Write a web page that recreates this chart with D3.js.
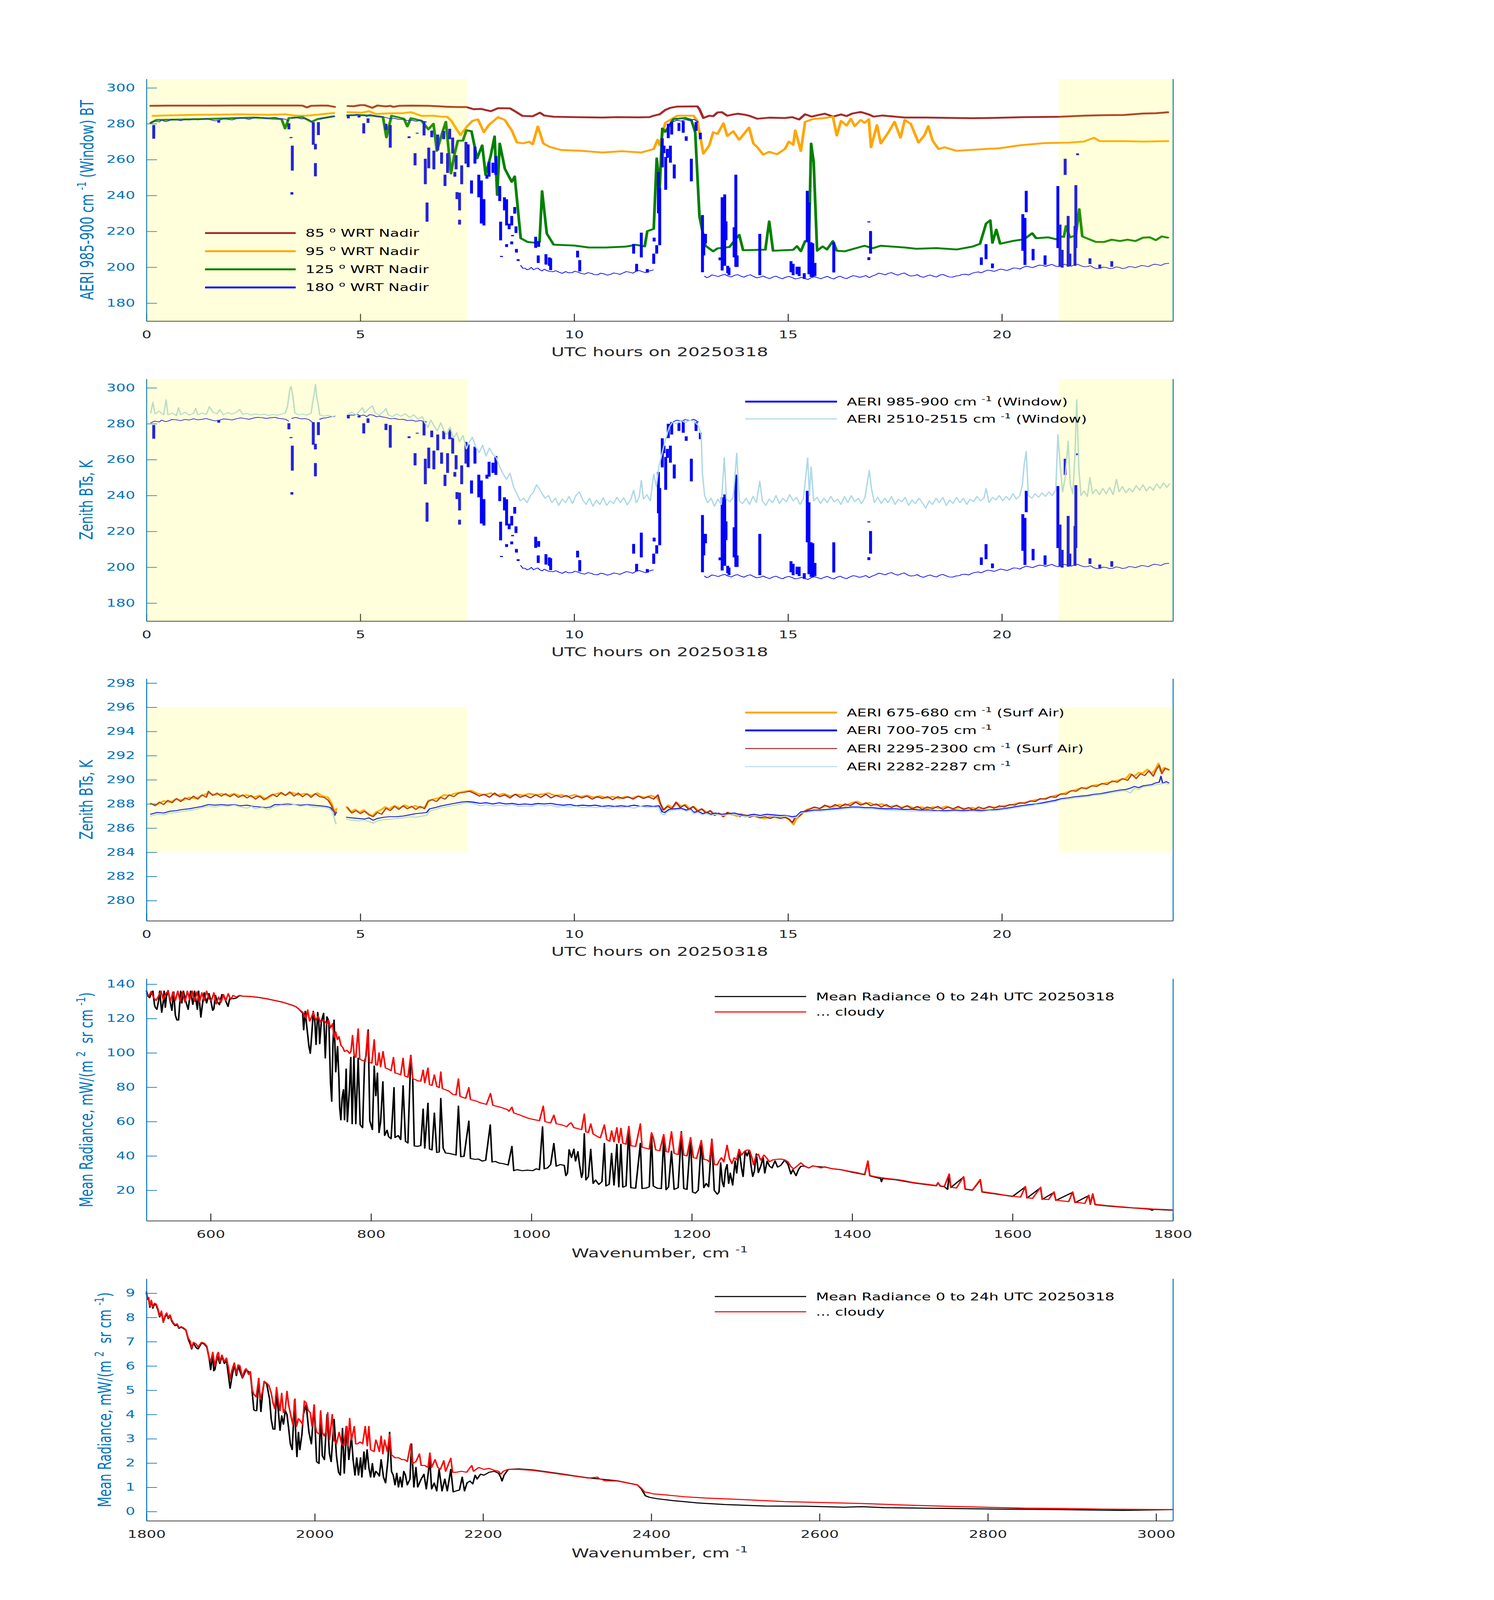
<!DOCTYPE html>
<html>
<head>
<meta charset="utf-8">
<script src="https://cdn.jsdelivr.net/npm/d3@7"></script>
<style>
html, body {margin:0; padding:0; height:100%; overflow:hidden; background:#fff}
#chart {display:block; width:100vw; height:100vh}
text {white-space:pre}
</style>
</head>
<body>
<svg id="chart" viewBox="0 0 3825 6000" preserveAspectRatio="none"></svg>
<script>
// ---- panel 1: window BT at four angles (hour, K) ----
const brown85 = [[0.1,290],[0.5,290.1],[1.0,290.1],[1.5,290.1],[2.0,290.2],[2.5,290.2],[3.0,290.2],[3.5,290.2],[3.65,290.1],[3.75,289.1],[3.85,290],[4.1,290.2],[4.25,290.1],[4.4,289.4],null,[4.71,289.9],[4.85,289.8],[5.0,290.4],[5.1,290.4],[5.28,288.9],[5.4,290.2],[5.6,289.7],[5.7,290],[5.77,289.4],[5.9,290],[6.2,290.1],[6.6,290],[6.8,289.8],[7.0,289.5],[7.3,289.3],[7.48,289.3],[7.65,288.1],[7.82,288.3],[8.05,287],[8.22,288.7],[8.5,288.6],[8.65,286.5],[8.79,284.4],[9.03,284.2],[9.2,286.2],[9.3,284.6],[9.52,283.9],[10.0,283.7],[10.66,283.5],[11.0,283.7],[11.5,283.6],[11.76,283.7],[11.86,284.5],[12.0,285.3],[12.13,287.7],[12.25,288.9],[12.41,289.6],[12.88,289.7],[12.93,288.1],[13.02,283.2],[13.16,284.5],[13.25,284.2],[13.35,286.3],[13.45,286.5],[13.58,284.5],[13.72,285.2],[13.83,285.6],[14.0,285],[14.09,284.5],[14.28,282.8],[14.56,283.4],[14.93,283.2],[15.1,283.7],[15.26,282.4],[15.4,285.3],[15.55,284],[15.7,284.8],[15.86,285.6],[16.05,284],[16.24,285.2],[16.37,284.3],[16.5,285.7],[16.7,286.6],[16.89,285.2],[17.0,284],[17.2,284.6],[17.35,284.3],[17.73,283.5],[18.2,283.5],[18.66,283.3],[19.31,283.1],[19.9,283.3],[20.52,283.7],[21.0,283.8],[21.36,283.9],[21.92,284.5],[22.4,284.8],[22.85,284.9],[23.3,285.7],[23.6,285.9],[23.88,286.4]];
const orange95 = [[0.15,284.4],[0.5,284.7],[1.2,285],[1.7,285.1],[2.2,285.3],[2.84,285],[3.24,285.3],[3.49,284.5],[3.73,284.5],[3.98,285],[4.2,285.6],[4.38,286],null,[4.71,286.5],[5.04,286.2],[5.2,287],[5.36,285.5],[5.69,285.8],[6.0,285.9],[6.18,286.5],[6.43,284.4],[6.7,284.5],[6.91,283.9],[7.03,283.9],[7.13,281.6],[7.25,277],[7.34,273.7],[7.5,278.7],[7.62,281.6],[7.75,282.5],[7.89,275.3],[8.0,279.2],[8.22,283.7],[8.38,282.1],[8.54,276.4],[8.66,269.6],[8.8,269.1],[8.95,270],[9.03,268.5],[9.15,278.5],[9.28,269],[9.44,267],[9.69,265.4],[10.17,264.9],[10.66,264],[11.11,264.7],[11.57,264],[11.86,265.9],[11.95,271.1],[12.0,268],[12.13,280.5],[12.41,284.5],[12.79,284.5],[12.88,281.6],[12.97,270.1],[13.02,263.3],[13.16,268],[13.25,275.3],[13.35,274.3],[13.49,280.3],[13.58,273.2],[13.72,275.8],[13.86,271.1],[14.09,277.9],[14.19,269],[14.28,267],[14.42,262.8],[14.56,264.4],[14.74,263],[14.93,266],[15.02,270.1],[15.12,268.2],[15.17,276.3],[15.3,264.8],[15.4,281.1],[15.58,282.6],[15.86,283.2],[16.05,283.9],[16.14,273.4],[16.24,281.6],[16.37,279],[16.47,282.8],[16.56,278.7],[16.7,282.1],[16.79,280.5],[16.89,282.6],[16.94,266.9],[17.08,279.3],[17.17,269],[17.35,275.3],[17.49,281.1],[17.63,272.2],[17.73,282.1],[17.87,280],[18.05,269.5],[18.19,273.6],[18.28,278.7],[18.38,270.6],[18.52,265.9],[18.66,266.9],[18.94,264.9],[19.41,265.6],[19.96,266.4],[20.43,268],[20.99,269.2],[21.55,269.5],[21.92,270.1],[22.15,272.2],[22.29,270.3],[22.85,270.3],[23.3,270.1],[23.88,270.3]];
const green125 = [[0.1,280.5],[0.23,282.1],[0.8,282.4],[1.61,282.8],[2.51,283.5],[3.16,282.6],[3.24,277.4],[3.33,283.2],[3.65,283.7],[3.86,281.1],[4.0,282.6],[4.38,284.2],null,[4.7,284.7],[4.96,284.9],[5.28,284.5],[5.53,283.7],[5.61,272.4],[5.73,284.5],[6.02,282.8],[6.1,278.5],[6.18,283.1],[6.43,281.7],[6.59,276.9],[6.71,280],[6.79,264.9],[6.91,274.5],[7.0,281.1],[7.12,252.3],[7.2,262.8],[7.28,270.6],[7.4,270.6],[7.48,276.4],[7.6,275.8],[7.73,260.7],[7.85,268],[7.93,251.5],[8.05,262.3],[8.14,273],[8.2,240.3],[8.26,269],[8.38,254.9],[8.54,247.6],[8.61,250.7],[8.75,216.2],[8.91,214.1],[9.11,213.6],[9.19,214.1],[9.25,242.4],[9.36,218.8],[9.52,212.6],[10.01,212.1],[10.34,211],[10.74,211],[11.2,211.5],[11.45,212.5],[11.65,211.6],[11.71,220.1],[11.86,221.4],[11.93,260.7],[12.0,244],[12.06,277.4],[12.13,275.5],[12.32,282.6],[12.6,283.2],[12.74,282.1],[12.83,275.3],[12.93,228.2],[13.07,212],[13.25,208.9],[13.35,210.5],[13.63,211.3],[13.86,218.1],[13.95,209.5],[14.47,209.8],[14.56,225.6],[14.65,209.2],[15.12,209.7],[15.21,211.8],[15.3,208.9],[15.4,214.6],[15.49,215.1],[15.54,269],[15.6,258.6],[15.68,209.2],[15.81,211.6],[15.91,209.9],[16.05,214.6],[16.14,209.2],[16.33,208.9],[16.79,212],[16.98,210.6],[17.17,212],[17.73,211],[18.0,210.3],[18.47,210.7],[18.94,209.9],[19.31,211.5],[19.49,213.1],[19.63,224.3],[19.73,226.2],[19.78,213.6],[19.87,221],[19.96,213.1],[20.24,214.6],[20.52,215.6],[20.71,219],[20.8,216.2],[21.08,216.7],[21.27,215.6],[21.41,217.2],[21.45,216.9],[21.5,223],[21.59,216.7],[21.73,217.7],[21.81,232.4],[21.88,217.2],[22.2,214.1],[22.39,214.1],[22.57,215.4],[22.76,214.6],[22.94,215.4],[23.12,214.6],[23.3,216.5],[23.46,216.7],[23.6,215.1],[23.74,217.2],[23.88,216.5]];
// 180 deg / 985-900 window: thin clear-sky trace, and thick cloud streaks (hour, low K, high K)
const blueTrace = [[0.1,280.5],[0.2,281.5],[0.3,281],[0.35,282],[0.45,281.2],[0.5,281.5],[0.6,282.4],[0.7,282.2],[0.8,281.7],[0.9,282.4],[1.0,282.1],[1.1,282.8],[1.2,282.2],[1.3,282.5],[1.4,282.9],[1.5,282.2],[1.6,281.6],[1.7,282],[1.8,282.7],[1.9,282.5],[2.0,282.1],[2.1,282.8],[2.2,283.3],[2.3,282.9],[2.4,282.5],[2.5,283.2],[2.6,283.6],[2.7,283.4],[2.8,283],[2.9,283.3],[3.0,283.6],[3.1,283],[3.2,282.7],[3.25,282.5],[3.32,281.5],null,[3.4,283],[3.48,283.5],[3.55,283.2],[3.62,282.7],[3.7,282.9],[3.8,282.3],[3.87,281],null,[4.05,282.5],[4.12,283.1],[4.2,283.3],[4.3,283.9],[4.4,284],null,[4.7,284.2],[4.78,284.9],[4.85,284.8],[4.92,285.3],[5.0,284.5],[5.08,284.9],[5.15,284],[5.22,285.1],[5.3,284.8],[5.38,283.9],[5.45,284.3],[5.52,283.8],[5.6,283.5],[5.7,282.8],[5.8,283],[5.9,282.4],[6.0,282.5],[6.1,281.8],[6.2,282],[6.3,281.4],[6.4,281.8],[6.55,281],null,[8.75,201],[8.8,199.4],[8.85,199.5],[8.9,198.6],[8.95,199],[9.0,199.9],[9.05,198.6],[9.1,199.2],[9.15,199.6],[9.2,198.5],[9.25,198],[9.3,198.9],[9.35,198.3],[9.42,197.7],[9.5,197.5],[9.57,198.1],[9.65,197.2],[9.72,196.6],[9.8,197.6],[9.87,196.9],[9.95,197],[10.02,197.8],[10.1,197.2],[10.17,196.5],[10.25,196.2],[10.32,197],[10.4,196.6],[10.47,195.9],[10.55,195.8],[10.62,196.7],[10.7,196.3],[10.77,195.6],[10.85,196],[10.92,196.8],[11.0,196.5],[11.07,196],[11.15,196.9],[11.22,197.6],[11.3,197.2],[11.37,196.7],[11.45,197.8],[11.52,198.2],[11.6,197.5],[11.67,197],[11.75,197.9],[11.85,198.5],null,[12.2,279],[12.3,281],[12.4,282],[12.5,281.5],[12.6,282.3],[12.7,281.8],[12.8,282.5],[12.9,281],null,[13.05,195],[13.1,194.2],[13.15,194.6],[13.22,195.7],[13.3,195.3],[13.37,194.8],[13.45,195.6],[13.52,196],[13.6,195.1],[13.67,194.6],[13.75,195.5],[13.82,195.9],[13.9,195],[13.97,194.5],[14.05,195.4],[14.12,195.8],[14.2,194.8],[14.27,194.1],[14.35,194.5],[14.42,195.1],[14.5,194.2],[14.57,193.7],[14.65,194.6],[14.72,195],[14.8,194.1],[14.87,193.6],[14.95,194.5],[15.02,194.9],[15.1,194.2],[15.17,193.5],[15.25,193.9],[15.32,194.4],[15.4,193.6],[15.47,193.2],[15.55,194.3],[15.62,194.7],[15.7,194.1],[15.77,193.6],[15.85,194.4],[15.92,194.9],[16.0,194],[16.07,193.5],[16.15,194.5],[16.22,195],[16.3,194.1],[16.37,193.7],[16.45,194.6],[16.52,195.3],[16.6,195],[16.67,194.4],[16.75,194.8],[16.82,195.4],[16.9,194.2],[16.97,195.1],[17.05,195.8],[17.12,196.7],[17.2,196.3],[17.27,195.8],[17.35,196.6],[17.42,197],[17.5,196.1],[17.57,195.6],[17.65,196.4],[17.72,196.8],[17.8,195.7],[17.87,195.1],[17.95,195.3],[18.02,195.9],[18.1,194.8],[18.17,194.4],[18.25,195.2],[18.32,195.7],[18.4,195],[18.47,194.6],[18.55,195.6],[18.62,196],[18.7,195.2],[18.77,194.6],[18.85,194.5],[18.92,195.1],[19.0,195.3],[19.07,196],[19.15,196.1],[19.22,195.7],[19.3,196.6],[19.37,197.1],[19.45,197.4],[19.52,196.9],[19.6,197.8],[19.67,198.4],[19.75,198.1],[19.82,197.7],[19.9,198.4],[19.97,199],[20.05,198.6],[20.12,198.2],[20.2,198.9],[20.27,199.6],[20.35,199.5],[20.42,199],[20.5,200],[20.57,200.6],[20.65,200.2],[20.72,199.8],[20.8,200.6],[20.87,201.2],[20.95,201],[21.02,200.5],[21.1,201.1],[21.17,201.6],[21.25,200.7],[21.32,200.3],[21.4,201.2],[21.47,201.7],[21.55,201],[21.62,200.6],[21.7,201.3],[21.77,201.7],[21.85,200.8],[21.92,200.3],[22.0,200.4],[22.07,200.9],[22.15,199.7],[22.22,199.2],[22.3,199.4],[22.37,200.1],[22.45,199.8],[22.52,199.2],[22.6,199.5],[22.67,200.2],[22.75,199.9],[22.82,199.3],[22.9,199.6],[22.97,200.4],[23.05,200.2],[23.12,199.8],[23.2,200.4],[23.27,201],[23.35,200.7],[23.42,200.3],[23.5,201.2],[23.57,201.7],[23.65,201.4],[23.72,201],[23.8,201.9],[23.9,202.2]];
const blueStreaks = [[0.17,271.7,279.3],[1.69,280.6,281.9],[3.33,276.9,280.3],[3.38,272,272.6],[3.41,253.9,267.8],[3.4,240.5,241.9],[3.9,268.3,280.9],[3.95,265.7,268.8],[3.95,250.7,258.1],[4.02,273.7,280.9],[4.72,283,285],[4.97,283.5,284.5],[5.08,274.6,280.3],[5.18,280.5,283],[5.6,276.5,280],[5.7,266.7,279.3],[6.14,272,273],[6.28,256.8,263.6],[6.33,274.5,275],[6.49,273.5,281.4],[6.52,246.3,260.5],[6.56,225.4,236.1],[6.6,255.2,266.7],[6.67,272.5,276.2],[6.72,254.6,265],[6.81,265.2,274],[6.9,257.7,264],[6.95,271.4,276],[6.98,245.3,251.6],[7.04,252.6,263.6],[7.09,271.4,277.2],[7.16,263.4,272.3],[7.21,250.5,253.1],[7.24,254.6,262.5],[7.26,238,241.9],[7.32,231.7,241.6],[7.32,223.8,226.5],[7.37,246.3,256.8],[7.47,257.8,269.9],[7.52,255.8,268.5],[7.6,241.1,248.4],[7.68,257.8,267.2],[7.77,239,251.6],[7.83,224.4,248.4],[7.89,223.3,238],[7.96,249.4,251.6],[8.01,250.5,258.8],[8.1,252.6,258.3],[8.17,251.5,262],[8.26,236.9,245.3],[8.28,215,225.4],[8.37,231.7,239],[8.42,223.3,237.9],[8.48,221.2,224.3],[8.54,223.3,228.6],[8.56,217.3,218],[8.61,229.9,233.6],[8.64,219.1,222.8],[8.65,208.2,210.2],[8.69,203.5,204.5],[8.3,205.7,206.3],[8.42,211.3,212.9],[8.54,212.8,214.4],[9.1,210.8,217],[9.16,202.4,206.6],[9.17,211.4,214.6],[9.34,201.5,207.3],[9.42,200.8,205.5],[9.45,198.4,205],[10.08,205.5,209.2],[10.13,197.7,204],[11.39,207.6,213],[11.57,205.5,219.3],[11.46,197.7,201.9],[11.71,197,199],[11.87,214.4,216.5],[11.86,201.9,207.6],[11.93,207.6,212.3],[11.97,230.1,253.1],[12.0,212.3,244.2],[12.06,255.7,271.9],[12.1,263.6,267.8],[12.14,243.2,261.5],[12.18,261,266],[12.25,258.3,267.8],[12.34,249.5,257.3],[12.2,272,280],[12.28,274,281],[12.45,276,280.5],[12.55,275,281.5],[12.62,270.5,273],[12.74,247.9,260.5],[12.85,276,281],[12.95,271.4,275],[13.0,197.2,229.1],[13.03,206.6,218.6],[13.07,213.4,218.6],[13.41,203.9,205.5],[13.46,198.2,239],[13.52,200.8,240.6],[13.55,215.1,225.6],[13.59,196.7,200.8],[13.62,195.6,199.8],[13.74,205.5,222.3],[13.78,200.2,251.6],[13.81,200.2,206.6],[14.34,195.6,218.6],[15.07,197.2,203.4],[15.12,195.6,201.9],[15.21,196.1,200.3],[15.26,195.1,200.3],[15.38,193.5,196.7],[15.45,213.9,242.6],[15.49,196.1,236.2],[15.54,194.6,213.9],[15.58,194.6,213.4],[15.63,195.1,202.4],[16.07,197.1,213.9],[16.89,225,225.6],[16.89,204,205.6],[16.93,207.6,220.2],[19.52,201.3,205.5],[19.63,204.5,212.9],[19.78,199.5,202.1],[20.49,209.2,229.6],[20.54,201.3,227.5],[20.57,230.7,242.6],[20.73,203.9,210.2],[21.01,201.3,206.6],[21.31,210.7,245.3],[21.36,200.3,223.8],[21.41,199.8,209.7],[21.48,251.5,260.5],[21.55,200.3,228.6],[21.59,200.8,207.6],[21.71,200.8,223],[21.73,210.7,245.8],[21.77,262.5,263.5],[22.06,201.8,205],[22.29,199.5,201.5],[22.57,200.3,203.4]];

// ---- panel 2: 2510-2515 window (hour, K) ----
const lightBlue2510 = [[0.1,286],[0.15,292],[0.2,285.5],[0.3,287],[0.4,285],[0.46,293.4],[0.5,285],[0.6,286],[0.7,284.5],[0.75,289],[0.8,285],[0.9,286.5],[1.0,284.8],[1.1,285.8],[1.15,288.6],[1.2,285],[1.3,286],[1.4,285.2],[1.47,289.5],[1.55,286.5],[1.65,285.5],[1.71,288],[1.8,285],[1.9,286.2],[2.0,285.4],[2.1,286.4],[2.18,288],[2.25,285.2],[2.35,285.8],[2.45,284.8],[2.55,285.6],[2.65,285],[2.75,285.4],[2.85,284.6],[2.95,285.2],[3.05,284.8],[3.15,285.3],[3.25,286],[3.3,290],[3.35,299],[3.38,300.8],[3.42,296],[3.47,286],[3.55,285],[3.65,285.4],[3.75,284.8],[3.85,286],[3.88,291],[3.92,296.5],[3.95,302],[3.98,295],[4.02,290],[4.05,285],[4.15,284.2],[4.25,284.8],[4.35,284],[4.42,284.5],null,[4.72,285.5],[4.8,286.5],[4.9,285],[5.0,287.5],[5.05,289],[5.1,286],[5.2,288.5],[5.28,290],[5.35,286],[5.45,285],[5.55,287],[5.6,288.5],[5.65,285],[5.75,284],[5.85,285.5],[5.95,284.2],[6.05,285.6],[6.15,283.5],[6.25,285],[6.35,282.5],[6.45,284],[6.5,281],[6.58,278],[6.65,282],[6.72,279],[6.8,276],[6.88,280.5],[6.95,276.5],[7.02,274],[7.1,278],[7.18,272],[7.25,275],[7.32,270],[7.4,273.5],[7.48,266],[7.55,270],[7.62,272.5],[7.7,267],[7.78,264],[7.86,268],[7.94,262],[8.02,266.5],[8.1,263],[8.18,261],[8.26,256],[8.34,252],[8.42,249],[8.5,252.5],[8.58,245],[8.66,241],[8.74,237],[8.82,238.5],[8.9,236],[8.98,240],[9.05,242],[9.12,246],[9.18,244],[9.25,241],[9.32,238.5],[9.4,240],[9.48,236],[9.56,238.5],[9.64,234.5],[9.72,238],[9.8,236],[9.88,239.5],[9.96,235.5],[10.04,240],[10.12,242],[10.2,237.5],[10.28,235],[10.36,238.5],[10.44,234],[10.52,237.5],[10.6,235],[10.68,238.8],[10.76,234.5],[10.84,237],[10.92,235.5],[11.0,239],[11.08,236],[11.16,238.8],[11.24,234.8],[11.32,237.5],[11.39,243],[11.45,236],[11.52,239],[11.57,248.4],[11.62,238],[11.7,240.5],[11.78,237],[11.86,252],[11.92,245],[11.98,256],[12.04,262],[12.1,268],[12.16,273],[12.22,278],[12.3,281],[12.4,280],[12.5,282],[12.6,280.5],[12.7,282],[12.8,281.5],[12.9,279],[12.97,274],[13.0,252],[13.05,240],[13.12,236],[13.2,238.5],[13.28,234],[13.36,238],[13.44,235],[13.51,261],[13.56,238],[13.64,236.5],[13.72,239],[13.8,263.6],[13.86,237],[13.94,235.5],[14.02,238.5],[14.1,235],[14.18,239.5],[14.26,236],[14.34,248],[14.4,237],[14.48,234.5],[14.56,238],[14.64,236],[14.72,240],[14.8,235.5],[14.88,238.5],[14.96,236.5],[15.04,240.5],[15.12,237],[15.2,239],[15.28,235],[15.36,238],[15.46,261],[15.5,240],[15.54,256],[15.6,237],[15.68,239],[15.76,235.5],[15.84,238.5],[15.92,236],[16.0,239.5],[16.08,236.5],[16.16,238],[16.24,235],[16.32,239.5],[16.4,236],[16.48,240],[16.56,236.5],[16.64,238.5],[16.72,235.5],[16.8,239],[16.9,254],[16.95,244],[17.02,236],[17.1,239],[17.18,235.5],[17.26,238.5],[17.34,236],[17.42,239.5],[17.5,235],[17.58,238],[17.66,236.5],[17.74,239],[17.82,234.5],[17.9,237.5],[17.98,235.5],[18.06,238.5],[18.14,236],[18.22,233],[18.3,237],[18.38,235],[18.46,238.5],[18.54,236],[18.62,239],[18.7,234.5],[18.78,237.5],[18.86,235.5],[18.94,239],[19.02,236],[19.1,238.5],[19.18,235],[19.26,238],[19.34,236.5],[19.42,239.5],[19.5,237],[19.58,238.5],[19.63,244],[19.7,236],[19.78,239],[19.86,237.5],[19.94,240],[20.02,237],[20.1,239.5],[20.18,237.5],[20.26,241],[20.34,238],[20.42,240],[20.48,246],[20.52,256.8],[20.57,264.6],[20.62,240],[20.7,238.5],[20.78,241],[20.86,239],[20.94,241.5],[21.02,239.5],[21.1,242],[21.18,240],[21.26,243],[21.31,274],[21.36,258],[21.42,242],[21.48,250],[21.55,270.4],[21.6,246],[21.66,241],[21.71,263],[21.75,293.4],[21.8,255],[21.85,240],[21.92,242.5],[22.0,239.5],[22.06,250],[22.12,241],[22.2,243.5],[22.28,240.5],[22.36,244],[22.44,241],[22.52,244.5],[22.6,240.5],[22.68,249],[22.74,242],[22.82,245],[22.9,241.5],[22.98,244],[23.06,242],[23.14,245.5],[23.22,243],[23.3,246],[23.38,242.5],[23.46,245],[23.54,243],[23.62,246.5],[23.7,244],[23.78,247],[23.86,244.5],[23.92,246.5]];

// ---- panel 3: surface-air channels (hour, K) ----
const orange675 = [[0.1,288.0],[0.25,287.95],[0.4,288.25],[0.55,288.15],[0.7,288.4],[0.85,288.3],[1.0,288.55],[1.15,288.45],[1.3,288.7],[1.45,288.9],[1.6,288.75],[1.75,288.85],[1.9,288.7],[2.05,288.85],[2.2,288.65],[2.35,288.75],[2.5,288.55],[2.65,288.7],[2.8,288.4],[2.95,288.75],[3.1,288.9],[3.25,288.75],[3.4,288.95],[3.55,288.75],[3.7,288.85],[3.85,288.7],[4.0,288.9],[4.12,288.65],[4.24,288.55],[4.32,288.1],[4.37,287.6],[4.4,287.1],[4.44,287.6],null,[4.68,287.75],[4.78,287.35],[4.88,287.55],[4.98,287.3],[5.08,287.5],[5.18,287.2],[5.28,287.0],[5.38,287.35],[5.48,287.5],[5.58,287.75],[5.68,287.6],[5.8,287.85],[5.92,287.65],[6.04,287.9],[6.16,287.7],[6.28,287.85],[6.4,287.7],[6.52,287.75],[6.6,288.3],[6.72,288.4],[6.84,288.5],[6.96,288.75],[7.08,288.7],[7.2,288.85],[7.32,288.95],[7.45,289.05],[7.6,289.1],[7.75,288.85],[7.9,288.75],[8.05,288.9],[8.2,288.7],[8.35,288.85],[8.5,288.65],[8.65,288.8],[8.8,288.7],[8.95,288.85],[9.1,288.75],[9.25,288.8],[9.4,288.9],[9.55,288.7],[9.7,288.75],[9.85,288.6],[10.0,288.75],[10.15,288.6],[10.3,288.7],[10.45,288.55],[10.6,288.65],[10.75,288.5],[10.9,288.6],[11.05,288.45],[11.2,288.6],[11.35,288.5],[11.5,288.65],[11.65,288.55],[11.8,288.7],[11.95,288.5],[12.03,287.9],[12.1,287.5],[12.2,287.9],[12.3,287.7],[12.4,288.1],[12.5,287.8],[12.6,287.95],[12.7,287.6],[12.8,287.75],[12.9,287.45],[13.0,287.55],[13.1,287.3],[13.2,287.4],[13.3,287.1],[13.4,287.2],[13.5,286.95],[13.6,287.3],[13.7,287.15],[13.8,287.0],[13.9,287.2],[14.0,286.95],[14.15,287.1],[14.3,286.9],[14.45,286.8],[14.6,286.95],[14.75,286.85],[14.9,286.9],[15.0,286.8],[15.08,286.5],[15.13,286.3],[15.18,286.7],[15.3,287.1],[15.45,287.55],[15.6,287.7],[15.75,287.65],[15.9,287.85],[16.05,287.75],[16.2,287.95],[16.35,287.85],[16.5,288.1],[16.62,288.2],[16.75,287.95],[16.9,288.1],[17.05,287.9],[17.2,288.0],[17.35,287.75],[17.5,287.85],[17.65,287.7],[17.8,287.85],[17.95,287.65],[18.1,287.75],[18.25,287.6],[18.4,287.75],[18.55,287.65],[18.7,287.8],[18.85,287.6],[19.0,287.7],[19.15,287.6],[19.3,287.7],[19.45,287.55],[19.6,287.65],[19.75,287.75],[19.9,287.7],[20.05,287.85],[20.2,287.9],[20.35,288.05],[20.5,288.1],[20.65,288.2],[20.8,288.35],[20.95,288.4],[21.1,288.55],[21.25,288.7],[21.4,288.8],[21.55,289.0],[21.7,289.15],[21.85,289.3],[22.0,289.35],[22.15,289.55],[22.3,289.6],[22.45,289.75],[22.6,289.85],[22.75,290.0],[22.9,290.1],[23.0,290.5],[23.1,290.3],[23.2,290.6],[23.3,290.55],[23.4,290.85],[23.5,290.5],[23.6,290.9],[23.66,291.35],[23.72,290.7],[23.8,291.0],[23.9,290.8]];
const blue700 = [[0.1,287.15],[0.25,287.3],[0.4,287.25],[0.55,287.4],[0.7,287.45],[0.85,287.55],[1.0,287.6],[1.15,287.7],[1.3,287.8],[1.45,287.95],[1.6,287.9],[1.75,287.95],[1.9,287.9],[2.05,287.95],[2.2,287.85],[2.35,287.9],[2.5,287.8],[2.65,287.75],[2.8,287.7],[2.9,287.75],[3.0,287.95],[3.15,287.95],[3.3,288.0],[3.45,287.95],[3.6,287.9],[3.75,287.95],[3.9,287.9],[4.05,287.85],[4.2,287.8],[4.3,287.7],[4.36,287.45],[4.4,287.05],[4.44,287.3],null,[4.68,286.9],[4.8,286.85],[4.95,286.8],[5.1,286.75],[5.2,286.85],[5.3,286.65],[5.4,286.8],[5.55,286.9],[5.7,286.95],[5.85,286.95],[6.0,287.0],[6.15,287.1],[6.3,287.2],[6.45,287.25],[6.55,287.3],[6.62,287.6],[6.75,287.7],[6.9,287.85],[7.05,287.95],[7.2,288.05],[7.35,288.15],[7.5,288.2],[7.65,288.15],[7.8,288.05],[7.95,288.1],[8.1,288.0],[8.25,288.1],[8.4,288.0],[8.55,288.05],[8.7,287.95],[8.85,288.0],[9.0,287.95],[9.15,288.05],[9.3,288.0],[9.45,288.05],[9.6,287.95],[9.75,287.9],[9.9,287.95],[10.05,287.85],[10.2,287.9],[10.35,287.85],[10.5,287.9],[10.65,287.8],[10.8,287.85],[10.95,287.8],[11.1,287.85],[11.25,287.8],[11.4,287.9],[11.55,287.8],[11.7,287.85],[11.85,287.8],[11.98,287.85],[12.06,287.35],[12.12,287.3],[12.22,287.55],[12.35,287.6],[12.5,287.65],[12.62,287.5],[12.72,287.6],[12.8,287.3],[12.9,287.4],[13.0,287.2],[13.1,287.3],[13.2,287.15],[13.3,287.25],[13.45,287.15],[13.6,287.2],[13.75,287.25],[13.9,287.1],[14.05,287.05],[14.2,287.15],[14.35,287.05],[14.5,287.15],[14.65,287.1],[14.8,287.05],[14.95,287.05],[15.1,286.95],[15.2,287.0],[15.3,287.35],[15.45,287.4],[15.6,287.5],[15.75,287.5],[15.9,287.55],[16.05,287.6],[16.2,287.65],[16.35,287.7],[16.5,287.75],[16.65,287.75],[16.8,287.7],[16.95,287.7],[17.1,287.65],[17.3,287.6],[17.5,287.6],[17.7,287.55],[17.9,287.55],[18.1,287.5],[18.3,287.5],[18.5,287.45],[18.7,287.45],[18.9,287.5],[19.1,287.45],[19.3,287.5],[19.5,287.45],[19.7,287.5],[19.9,287.55],[20.05,287.62],[20.2,287.7],[20.35,287.8],[20.5,287.87],[20.65,287.95],[20.8,288.0],[20.95,288.1],[21.1,288.2],[21.25,288.3],[21.4,288.45],[21.55,288.5],[21.7,288.6],[21.85,288.65],[22.0,288.7],[22.15,288.8],[22.3,288.85],[22.45,288.95],[22.6,289.05],[22.75,289.15],[22.9,289.2],[23.0,289.3],[23.1,289.45],[23.2,289.35],[23.3,289.5],[23.4,289.55],[23.5,289.6],[23.6,289.75],[23.68,289.8],[23.72,290.3],[23.76,289.7],[23.84,289.85],[23.9,289.75]];
const brown2295 = [[0.1,288.05],[0.2,287.85],[0.3,288.15],[0.4,287.95],[0.5,288.3],[0.6,288.1],[0.7,288.45],[0.8,288.2],[0.9,288.5],[1.0,288.35],[1.1,288.65],[1.2,288.4],[1.3,288.75],[1.4,288.55],[1.45,289.05],[1.55,288.7],[1.65,288.9],[1.75,288.65],[1.85,288.85],[1.95,288.6],[2.05,288.8],[2.15,288.55],[2.25,288.75],[2.35,288.5],[2.45,288.7],[2.55,288.4],[2.65,288.65],[2.75,288.35],[2.85,288.6],[2.95,288.8],[3.05,288.6],[3.15,288.95],[3.25,288.7],[3.35,289.0],[3.45,288.65],[3.55,288.9],[3.65,288.6],[3.75,288.85],[3.85,288.55],[3.95,288.85],[4.05,288.6],[4.15,288.55],[4.25,288.3],[4.32,287.9],[4.37,287.5],[4.42,287.2],null,[4.7,287.7],[4.8,287.25],[4.9,287.45],[5.0,287.2],[5.1,287.4],[5.2,287.1],[5.3,286.95],[5.4,287.3],[5.5,287.15],[5.6,287.65],[5.7,287.45],[5.8,287.8],[5.9,287.55],[6.0,287.85],[6.1,287.6],[6.2,287.8],[6.3,287.55],[6.4,287.8],[6.5,287.6],[6.58,288.2],[6.68,288.35],[6.78,288.2],[6.88,288.55],[6.98,288.4],[7.08,288.75],[7.18,288.6],[7.3,288.9],[7.42,288.95],[7.55,289.05],[7.65,288.9],[7.78,288.65],[7.9,288.8],[8.02,288.55],[8.14,288.9],[8.26,288.6],[8.38,288.75],[8.5,288.5],[8.62,288.8],[8.74,288.55],[8.86,288.7],[8.98,288.5],[9.1,288.75],[9.22,288.55],[9.34,288.8],[9.46,288.5],[9.58,288.7],[9.7,288.55],[9.82,288.7],[9.94,288.45],[10.06,288.65],[10.18,288.5],[10.3,288.65],[10.42,288.4],[10.54,288.6],[10.66,288.45],[10.78,288.6],[10.9,288.35],[11.02,288.6],[11.14,288.45],[11.26,288.6],[11.38,288.4],[11.5,288.65],[11.62,288.45],[11.74,288.6],[11.86,288.4],[11.96,288.75],[12.02,288.0],[12.08,287.5],[12.18,287.8],[12.28,287.6],[12.38,288.15],[12.48,287.7],[12.58,287.9],[12.68,287.55],[12.78,287.8],[12.88,287.4],[12.98,287.6],[13.08,287.25],[13.18,287.45],[13.28,287.05],[13.38,287.25],[13.48,286.95],[13.58,287.3],[13.68,287.1],[13.78,287.2],[13.88,286.95],[13.98,287.1],[14.1,286.9],[14.22,287.05],[14.34,286.85],[14.46,286.95],[14.58,286.8],[14.7,286.95],[14.82,286.8],[14.94,286.9],[15.04,286.7],[15.1,286.45],[15.16,286.85],[15.26,287.0],[15.38,287.4],[15.5,287.55],[15.62,287.75],[15.74,287.6],[15.86,287.9],[15.98,287.7],[16.1,287.95],[16.22,287.75],[16.34,288.0],[16.46,287.85],[16.58,288.15],[16.7,287.9],[16.82,288.1],[16.94,287.85],[17.06,288.0],[17.18,287.75],[17.3,287.95],[17.42,287.7],[17.54,287.9],[17.66,287.65],[17.78,287.85],[17.9,287.6],[18.02,287.8],[18.14,287.55],[18.26,287.75],[18.38,287.6],[18.5,287.8],[18.62,287.55],[18.74,287.75],[18.86,287.6],[18.98,287.8],[19.1,287.55],[19.22,287.7],[19.34,287.5],[19.46,287.75],[19.58,287.6],[19.7,287.8],[19.82,287.65],[19.94,287.85],[20.06,287.75],[20.18,287.95],[20.3,287.9],[20.42,288.1],[20.54,288.05],[20.66,288.25],[20.78,288.2],[20.9,288.45],[21.02,288.4],[21.14,288.6],[21.26,288.55],[21.38,288.85],[21.5,288.8],[21.62,289.1],[21.74,289.05],[21.86,289.35],[21.98,289.25],[22.1,289.5],[22.22,289.45],[22.34,289.7],[22.46,289.6],[22.58,289.9],[22.7,289.8],[22.82,290.1],[22.94,289.95],[23.04,290.45],[23.14,290.1],[23.24,290.5],[23.34,290.35],[23.44,290.75],[23.54,290.3],[23.62,290.9],[23.68,291.2],[23.74,290.5],[23.82,290.95],[23.9,290.85]];
const lightBlue2282 = [[0.1,287.0],[0.25,287.15],[0.4,287.1],[0.55,287.25],[0.7,287.3],[0.85,287.4],[1.0,287.45],[1.15,287.55],[1.3,287.7],[1.45,287.8],[1.6,287.75],[1.75,287.85],[1.9,287.8],[2.05,287.9],[2.2,287.75],[2.35,287.65],[2.45,287.8],[2.55,287.6],[2.7,287.7],[2.85,287.55],[3.0,287.8],[3.15,287.9],[3.3,287.85],[3.45,287.95],[3.6,287.8],[3.75,287.9],[3.9,287.75],[4.05,287.75],[4.2,287.7],[4.3,287.55],[4.36,287.3],[4.4,286.7],[4.43,286.35],null,[4.68,286.75],[4.8,286.65],[4.95,286.6],[5.1,286.65],[5.2,286.55],[5.3,286.4],[5.4,286.6],[5.55,286.7],[5.7,286.75],[5.85,286.8],[6.0,286.85],[6.15,286.95],[6.3,286.9],[6.45,287.0],[6.55,287.05],[6.62,287.4],[6.75,287.55],[6.9,287.7],[7.05,287.8],[7.2,287.9],[7.35,288.0],[7.5,288.1],[7.65,288.05],[7.8,287.85],[7.95,287.95],[8.1,287.85],[8.25,287.9],[8.4,287.85],[8.55,287.95],[8.7,287.8],[8.85,287.85],[9.0,287.8],[9.15,287.95],[9.3,287.85],[9.45,287.9],[9.6,287.75],[9.75,287.8],[9.9,287.75],[10.05,287.8],[10.2,287.7],[10.35,287.75],[10.5,287.7],[10.65,287.75],[10.8,287.65],[10.95,287.75],[11.1,287.7],[11.25,287.75],[11.4,287.65],[11.55,287.8],[11.7,287.7],[11.85,287.75],[11.98,287.7],[12.04,287.2],[12.1,287.1],[12.2,287.4],[12.35,287.5],[12.5,287.55],[12.62,287.4],[12.72,287.5],[12.8,287.2],[12.9,287.3],[13.0,287.1],[13.1,287.2],[13.2,287.05],[13.3,287.15],[13.45,287.05],[13.6,287.1],[13.75,287.15],[13.9,287.0],[14.05,286.95],[14.2,287.05],[14.35,286.95],[14.5,287.05],[14.65,287.0],[14.8,286.95],[14.95,287.0],[15.1,286.85],[15.2,286.9],[15.3,287.25],[15.45,287.3],[15.6,287.4],[15.75,287.4],[15.9,287.45],[16.05,287.5],[16.2,287.55],[16.35,287.6],[16.5,287.65],[16.65,287.65],[16.8,287.6],[16.95,287.6],[17.1,287.55],[17.3,287.5],[17.5,287.45],[17.7,287.45],[17.9,287.4],[18.1,287.4],[18.3,287.35],[18.5,287.4],[18.7,287.35],[18.9,287.4],[19.1,287.35],[19.3,287.4],[19.5,287.35],[19.7,287.45],[19.9,287.45],[20.05,287.55],[20.2,287.6],[20.35,287.7],[20.5,287.8],[20.65,287.85],[20.8,287.95],[20.95,288.0],[21.1,288.1],[21.25,288.2],[21.4,288.35],[21.55,288.4],[21.7,288.5],[21.85,288.55],[22.0,288.6],[22.15,288.7],[22.3,288.75],[22.45,288.85],[22.6,288.95],[22.75,289.05],[22.9,289.1],[23.0,288.9],[23.1,289.3],[23.2,289.2],[23.3,289.4],[23.4,289.45],[23.5,289.5],[23.6,289.6],[23.7,289.65],[23.8,289.7],[23.9,289.65]];

// ---- panel 4: mean radiance 520-1800 cm-1 (wavenumber, mW/(m2 sr cm-1)) ----
const meanRadLW = [[520,136.1],[522,133],[524,132.1],[526,135],[528,136],[530,128],[531,126.5],[533,125.3],[535,130],[536.5,136],[539,123.6],[541,130],[542,136],[543.5,126.5],[545,133],[547,136.3],[549,131],[551.7,124.7],[554,135.5],[556,121.9],[558,119.1],[560,119.1],[562.6,136],[564,129],[566,136],[569,130],[572,125.3],[575,136],[577.8,128.2],[580,136],[583.5,125.3],[585,136],[587.8,120.8],[590,129],[592,135],[595,129],[598,134.5],[600,131],[602.6,124.7],[604,125.6],[606,133.5],[608,130],[611,128],[614,134],[617,132.5],[619,130],[621.7,127],[624,132],[628,131.5],[632,131.9],[636,133.3],[640,133],[650,132.8],[660,132.3],[670,131.5],[680,130.5],[690,129.5],[700,128],[706,127],[710,125.5],[713,124],[714.8,123.1],[716,113.4],[718,124.2],[720,115],[722.6,103.7],[724.3,99.7],[726,110],[728,124.2],[730,118],[731.5,104.8],[733.5,123.6],[735,117],[736,105.3],[738,118],[740.9,123.1],[743,97],[745,121],[747.4,118.5],[749.5,82.6],[751,71.8],[752.5,104.8],[753.9,119.1],[755,105],[756,88.9],[758.3,103.7],[760,85],[761,67.8],[762.4,61],[764,74],[765.7,78.6],[767,61],[769,90.6],[770.5,59.9],[773,78],[774.8,97.4],[776.5,58.7],[778.7,98],[781,58.7],[784,96.9],[786.5,58.1],[789.5,56.4],[792,95.1],[794,98.6],[796.5,113.4],[798.5,60.4],[801.7,55.3],[804,92.3],[806,75],[808,88.3],[810,53.6],[812,60],[814.8,83.2],[817,51.9],[820,55],[822,51.2],[825,50],[827,65.5],[828.7,79.8],[830,50.7],[834,51.9],[837,49.5],[840,80.9],[843,48.5],[846,47.5],[849.6,98.6],[852,84.9],[854,45.8],[858,45.6],[862,46],[865,67.3],[867,44.5],[871,70.7],[873,44],[876,43.5],[879,65],[882,42],[885,42.3],[887,73.5],[890,44.5],[893,41.7],[897,41.5],[902,41],[906,40.5],[909,69],[912,39.5],[916,39.8],[922,60.3],[924,38.5],[930,38],[934,38.2],[938.7,37],[943,37.5],[948.7,58.1],[951,36.5],[955,36.8],[960,35.8],[965,35.5],[971,34.7],[975.7,45.6],[978,31.4],[982,32],[988.7,31.4],[995,31.7],[1001.7,31.4],[1006,32.5],[1010,32],[1013.9,57],[1016,32.5],[1020,33],[1024,35],[1028,47.3],[1031,34],[1036,35],[1041,34.5],[1043,28.5],[1045,30],[1047,43.6],[1050,39],[1053,44],[1055,37],[1058,42.5],[1060,35],[1062.6,27.4],[1064,30],[1066,53],[1068,26],[1071,28],[1074,43.9],[1077,24],[1080,26],[1084,23.4],[1088,25],[1091,47.3],[1093,22.5],[1097,23.5],[1100,41.5],[1103,23],[1106.6,46.8],[1109,22],[1111.6,46.8],[1114,21.8],[1118,22.5],[1121.5,57],[1124,21.5],[1130,21.2],[1135.9,47.3],[1138,21],[1143,21.3],[1147,22],[1149.8,52.5],[1152,22.5],[1157,21.2],[1162,21],[1165,50.7],[1168,20.3],[1171,22],[1174.7,42.8],[1178,20.5],[1183,21.5],[1187,54.2],[1190,21],[1194,20.5],[1198.5,50.7],[1201,19],[1204.5,18.3],[1208,20],[1211.9,49],[1215,21.5],[1218,24],[1221,22],[1225,49.8],[1228,20],[1231.8,17.7],[1234,19],[1236,36],[1238,25],[1240,22],[1242,32],[1244,35],[1246,24],[1248,30],[1251,23],[1254,37.1],[1256,30],[1259,43.8],[1262,33],[1264,28],[1266.6,42.8],[1269,40],[1271.6,43.3],[1274,34],[1276,28],[1278,31],[1280.5,41.2],[1283,30.3],[1286.5,34.8],[1289,39],[1291,30],[1294,37],[1297,34],[1300,33],[1303.9,37.1],[1307,33.5],[1311,34.5],[1316,37.7],[1320,35],[1323.7,29.5],[1326,32],[1330,28.5],[1333,32],[1336,34],[1341,34],[1346,33],[1351,34.2],[1356,33.8],[1366,33.5],[1376,32.5],[1386,32],[1400,30.5],[1415.7,29.1],[1419.6,36.8],[1422,28.4],[1435.5,26.8],[1436.5,25],[1438,26.8],[1455,26.1],[1475,24.4],[1495,23.2],[1505,22.6],[1507,24.3],[1510,22.4],[1515,22.1],[1519,20.5],[1521,29.2],[1523,21.6],[1539,27.7],[1541,20.6],[1550,20],[1559.8,26],[1562,19],[1580,17.8],[1600,16.4],[1616,22],[1618,15.5],[1635,21.5],[1637,14.7],[1651.7,18.8],[1654,14.1],[1675,18.8],[1678,12.8],[1695,16.9],[1697,11.8],[1700,17.7],[1703,11.6],[1720,10.8],[1738.6,10.1],[1763.5,9.3],[1772,8.9],[1774,8.3],[1776,8.9],[1790,8.6],[1800,8.4]];
const cloudyRadLW = [[520,134.4],[523,133],[526,135.8],[529,132],[532,130.5],[535,133],[538,136],[541,131],[544,134.5],[547,136],[550,130],[553,135.5],[556,130.5],[559,136],[562,130],[565,135.5],[568,129.5],[571,136],[574,131],[577,136],[580,130],[583,135.5],[586,129.5],[589,135],[592,130.5],[595,136],[598,131.5],[601,130.5],[604,135],[607,128.5],[610,132.5],[613,129.5],[616,134],[619,130.5],[622,134.5],[625,131],[628,133.5],[632,132.5],[636,133.5],[640,133],[650,132.8],[660,132.3],[670,131.5],[680,130.5],[690,129.5],[700,128],[706,127],[710,125.5],[715,123.6],[719,120.2],[721,125],[723.5,118.5],[726,121],[728,123.6],[731,119],[734,121.3],[737,118],[741,119.1],[745,116.8],[747,119],[749.5,114.5],[752,117],[754,109],[756,112.2],[758,107.7],[760,109.5],[762.6,104.3],[765,103],[767,100.8],[770,101.5],[773.5,99.7],[775,101],[777,110.2],[779,98.5],[781,97.4],[784,114],[786,96.3],[790,95.5],[793,95.1],[796,112.8],[798,94.5],[801,94],[804,107.7],[806,93],[808,92.9],[810,100],[812,91.8],[815,100.8],[818,91.2],[822,90.5],[825,89.6],[828,97.4],[830,88.3],[834,87.8],[837,87.2],[840,96.9],[842,86.6],[846,85.8],[849.6,98.6],[852,84.9],[855,84.5],[858,83.8],[862,83.5],[865,90],[867,82.6],[871,91.2],[873,81.5],[876,81],[879,87.2],[882,80.5],[885,79.8],[887,88.9],[889,79.2],[893,78.5],[897,77.8],[902,75.8],[906,75.5],[909,84.9],[911,74.7],[915,74],[918,73.5],[922,79.8],[924,72.8],[928,72.4],[932,71.8],[936,71],[940,70.5],[944,70],[949,76.4],[952,69.5],[956,69],[960,68.5],[965,67.8],[970,67],[972,66],[975.7,68.4],[978,65],[982,64.4],[986,63.8],[990,63],[995,62.1],[1000,61.5],[1005,61],[1010,60.5],[1014.8,69],[1017,60],[1021,59.5],[1024,59.3],[1028,63.8],[1031,58.7],[1035,58.4],[1040.9,57.6],[1044,57],[1047,58.5],[1049.6,59.3],[1053,56.5],[1057,56],[1062.6,55.3],[1066,64.4],[1068,54],[1071,53.6],[1074,58.7],[1077,52.8],[1082.7,51.2],[1086,50.5],[1091,58.1],[1094,49.5],[1097.6,48.5],[1100,54.7],[1103,48.2],[1106.6,56.5],[1109,47.8],[1111.6,56.1],[1114,47.5],[1118,46.8],[1121.5,57.2],[1124,46],[1130,45.5],[1135.9,58.7],[1138,45],[1143,44.5],[1147,44],[1149.8,53.6],[1152,50.7],[1155,43.5],[1160,43],[1165,52.5],[1168,42.5],[1171,42.2],[1174.7,54.2],[1178,41.5],[1183,40.8],[1187,53.6],[1190,40.5],[1194,40],[1198.5,50.7],[1202,39],[1206,38.5],[1211.9,49],[1215,38],[1219,37.7],[1222,36.5],[1225,49.6],[1228,35],[1231.8,34.8],[1234,37],[1237,39],[1240,36.5],[1244,46.2],[1247,38.5],[1250,35.5],[1253,39],[1256,37.7],[1259,43.8],[1262,40.5],[1266,42.8],[1269,43.5],[1272,43.3],[1275,39],[1277,34.8],[1280,40],[1283,41],[1286,37.5],[1290,40.5],[1293,39],[1297,36.6],[1301,37.7],[1305,38],[1311,38.2],[1316,37.7],[1320,36.5],[1323.7,33.7],[1327,32.5],[1331,34],[1336,36],[1341,34],[1346,33],[1351,34.2],[1356,33.8],[1361,33],[1366,33.7],[1371,33],[1376,32.5],[1381,32.3],[1386,32],[1395,31.2],[1405.7,30.3],[1412,29.6],[1415.7,29.3],[1419.6,37.1],[1422,28.6],[1428,28],[1435.5,27.4],[1445,26.8],[1455,26.3],[1465,25.6],[1475,24.6],[1485,24],[1495,23.4],[1505,22.8],[1507,24.5],[1510,22.6],[1515,22.3],[1521,29.5],[1523,21.8],[1530,21.3],[1539,28],[1541,20.8],[1550,20.2],[1559.8,26.3],[1562,19.2],[1570,18.7],[1580,18],[1589.6,17.2],[1600,16.6],[1610,16],[1616,22.3],[1618,15.7],[1625,15.3],[1635,21.8],[1637,14.9],[1645,14.6],[1651.7,19.1],[1654,14.3],[1662,13.8],[1670,13.4],[1675,19.1],[1678,13],[1685,12.7],[1690,12.3],[1695,17.2],[1697,12],[1700,18],[1703,11.8],[1710,11.5],[1720,11],[1730,10.6],[1738.6,10.3],[1750,9.8],[1763.5,9.5],[1775,9.1],[1790,8.8],[1800,8.6]];

// ---- panel 5: mean radiance 1800-3020 cm-1 ----
const meanRadSW = [[1800,9.0],[1801.2,8.75],[1802.5,8.8],[1804,8.42],[1805.8,8.68],[1807.5,8.38],[1809.5,8.55],[1811.6,8.5],[1813.7,8.3],[1815.7,8.02],[1817.8,8.22],[1820,7.8],[1822,8.02],[1824,8.15],[1826,7.95],[1828,8.08],[1830,7.85],[1832,7.75],[1834,7.66],[1836.5,7.7],[1838.5,7.55],[1841.4,7.6],[1843.8,7.55],[1846.8,7.48],[1849.7,7.1],[1852,6.9],[1853.7,6.7],[1855.8,6.95],[1859.2,6.75],[1861.3,6.7],[1865.5,6.95],[1868.8,6.9],[1871.7,6.78],[1874.6,6.3],[1876.3,5.85],[1878.8,6.5],[1880,5.8],[1881.3,5.85],[1884.2,6.4],[1887.2,6.1],[1889.7,6.4],[1892.6,6.1],[1895,6.25],[1897.5,5.6],[1899.4,5.08],[1901.8,5.6],[1904.4,6.05],[1906.9,5.6],[1909,6.0],[1914,5.5],[1918.5,5.85],[1923.5,5.7],[1925.6,4.95],[1927.6,4.2],[1929,4.16],[1931,4.16],[1933.4,5.49],[1936,4.12],[1938,4.9],[1940,5.37],[1943,5.25],[1946.3,4.64],[1948.3,3.8],[1950.4,3.4],[1952.5,3.39],[1954.6,4.9],[1956.6,4.2],[1958.7,3.35],[1960.7,3.95],[1962.8,3.6],[1965,4.16],[1967,4.0],[1969,3.43],[1971,2.79],[1973.2,2.55],[1976,4.6],[1977.5,3.11],[1978.8,2.26],[1980.6,3.27],[1982.3,2.55],[1984.8,3.2],[1986.5,4.0],[1989.8,4.4],[1993.1,3.27],[1996,2.79],[1999.3,4.4],[2002.2,2.06],[2005,1.98],[2007,4.08],[2009,2.3],[2011.5,2.14],[2014.6,4.0],[2017.5,2.38],[2019.5,2.06],[2023,3.8],[2025.8,2.3],[2028.3,1.62],[2030.4,1.5],[2033,3.43],[2035.1,1.58],[2038,3.51],[2040.5,2.14],[2043.6,3.11],[2045.6,2.14],[2047.8,1.5],[2049.9,2.22],[2052,1.5],[2054.5,2.22],[2056,1.42],[2058.5,2.46],[2060,1.74],[2062.2,2.55],[2064.3,1.82],[2066.4,1.42],[2068.5,1.98],[2070.5,1.42],[2072.6,1.66],[2074.7,1.58],[2076.8,1.46],[2078.9,2.14],[2081.7,1.42],[2084.2,1.18],[2087,2.14],[2089,3.27],[2091.2,1.66],[2093.3,1.5],[2095.4,1.1],[2097.5,1.58],[2099.5,1.01],[2101.6,1.42],[2103.7,1.01],[2105.8,1.66],[2107.8,1.5],[2110,1.1],[2113.2,1.34],[2115,2.79],[2117.8,1.01],[2120.3,1.82],[2122.4,1.01],[2126.5,1.34],[2129.8,1.54],[2132.6,0.93],[2136.8,2.14],[2138.9,0.93],[2142,1.18],[2145,0.85],[2147.8,1.74],[2151.3,0.85],[2154.6,1.34],[2157.5,0.85],[2161.7,1.74],[2164.6,0.81],[2168,0.85],[2172,0.89],[2175.3,1.42],[2178,0.85],[2181,1.18],[2184.5,1.26],[2187.8,1.14],[2190.7,1.5],[2193,1.34],[2197,1.54],[2201,1.5],[2207.3,1.62],[2213.5,1.66],[2218.5,1.58],[2221,1.42],[2222.6,1.26],[2225,1.5],[2230,1.74],[2242.5,1.76],[2259,1.72],[2275.6,1.64],[2292.2,1.56],[2308.8,1.47],[2325.4,1.39],[2359.8,1.27],[2383.4,1.1],[2388,0.94],[2393,0.65],[2397.6,0.59],[2407,0.53],[2426,0.45],[2454,0.36],[2487.6,0.29],[2535,0.23],[2582,0.22],[2629.6,0.18],[2650,0.2],[2677,0.16],[2724,0.14],[2771.7,0.12],[2819,0.1],[2866.4,0.09],[2913.7,0.07],[2961,0.05],[3019.3,0.08]];
const cloudyRadSW = [[1800,9.07],[1801.2,8.79],[1802.5,8.83],[1804,8.47],[1805.8,8.71],[1807.5,8.43],[1809.5,8.59],[1811.6,8.55],[1813.7,8.35],[1815.7,8.07],[1817.8,8.27],[1820,7.82],[1822,8.07],[1824,8.19],[1826,7.98],[1828,8.11],[1830,7.9],[1832,7.78],[1834,7.7],[1836.5,7.74],[1838.5,7.58],[1841.4,7.62],[1843.8,7.58],[1846.8,7.5],[1849.7,7.14],[1852,7.02],[1853.7,6.74],[1855.8,6.98],[1859.2,6.9],[1861.3,6.78],[1865.5,6.98],[1868.8,6.94],[1871.7,6.82],[1874.6,6.33],[1876.3,6.17],[1878.8,6.57],[1881.3,6.0],[1884.2,6.49],[1885.5,6.57],[1887.2,6.17],[1889.7,6.45],[1892.6,6.17],[1895,6.33],[1897.5,5.93],[1899.4,5.45],[1901.8,5.85],[1904.4,6.13],[1906.9,5.69],[1909,6.05],[1911,6.01],[1914,5.53],[1916.5,5.81],[1918.5,5.89],[1921.4,5.65],[1923.5,5.77],[1925.6,5.04],[1927.6,4.84],[1930.5,4.72],[1933.4,5.49],[1935,4.64],[1938,4.96],[1940,5.37],[1943,5.29],[1945.5,5.2],[1948.3,4.88],[1950.4,4.48],[1952.5,4.24],[1954.6,5.12],[1956.6,4.56],[1958.7,4.16],[1960.7,4.88],[1962.8,4.08],[1965,4.24],[1967,4.96],[1969,4.4],[1972.4,3.83],[1974,3.59],[1976.5,4.64],[1978.2,3.51],[1980.6,3.83],[1982.7,3.75],[1985.6,3.59],[1987.7,4.56],[1989.8,4.48],[1992.3,4.16],[1994.7,4.08],[1996.8,3.51],[1999.3,4.4],[2000.9,3.51],[2002.2,3.27],[2005.5,3.19],[2007,4.16],[2009,3.27],[2011.3,3.11],[2013.8,3.35],[2015.4,4.08],[2017.5,2.95],[2020.8,4.0],[2022.9,2.95],[2025.8,2.79],[2029,3.27],[2032,2.79],[2034.5,2.71],[2037.4,3.51],[2039.4,2.71],[2041.5,3.84],[2043.6,2.95],[2047,3.51],[2048.7,2.79],[2051,2.79],[2053.9,2.87],[2056.9,2.79],[2060,3.51],[2062.5,2.71],[2064.3,3.51],[2066.4,2.55],[2070.5,2.47],[2072.6,2.95],[2074.3,2.79],[2076.8,2.47],[2078.9,3.11],[2081,2.38],[2083,2.95],[2086.3,2.47],[2089,3.19],[2091.2,2.34],[2095.4,2.22],[2099.5,2.22],[2103.7,2.14],[2107,2.14],[2110,2.06],[2114,2.79],[2116.2,1.98],[2120.3,2.06],[2124.4,2.38],[2126.5,1.9],[2130.6,1.9],[2134.7,1.82],[2136.8,2.42],[2138.9,1.82],[2143,2.14],[2146.3,1.82],[2149.3,1.74],[2153.4,2.1],[2155.5,1.66],[2161.7,2.2],[2163.8,1.62],[2168,1.62],[2174.2,1.66],[2180.4,1.62],[2186.6,1.9],[2188.7,1.66],[2194.8,1.82],[2201,1.74],[2207.3,1.78],[2213.5,1.7],[2218.5,1.66],[2221,1.54],[2224,1.66],[2230,1.74],[2242.5,1.74],[2259,1.7],[2275.6,1.62],[2292.2,1.54],[2308.8,1.46],[2325.4,1.38],[2336,1.42],[2338,1.36],[2345.3,1.27],[2359.8,1.26],[2383.4,1.1],[2388,0.97],[2392,0.81],[2395.3,0.79],[2402.4,0.73],[2416.6,0.69],[2440,0.61],[2463.9,0.56],[2511,0.49],[2558.6,0.41],[2605.9,0.37],[2653.3,0.33],[2700.7,0.27],[2748,0.22],[2795,0.18],[2842.7,0.14],[2890,0.13],[2937.4,0.1],[2984.8,0.09],[3019.3,0.08]];

// ---- ticks and shaded (night) periods ----
const hourTicks = [0, 5, 10, 15, 20];
const btTicks = [180, 200, 220, 240, 260, 280, 300];
const surfTicks = [280, 282, 284, 286, 288, 290, 292, 294, 296, 298];
const lwTicks = [600, 800, 1000, 1200, 1400, 1600, 1800];
const lwRadTicks = [20, 40, 60, 80, 100, 120, 140];
const swTicks = [1800, 2000, 2200, 2400, 2600, 2800, 3000];
const swRadTicks = [0, 1, 2, 3, 4, 5, 6, 7, 8, 9];
const shadeHours = [[0, 7.5], [21.33, 24]];

// whole figure is laid out on a 3825x6000 grid and fitted to the window
const svg = d3.select("#chart");
svg.append("rect").attr("width", 3825).attr("height", 6000).attr("fill", "#fff");

const plot = {left: 375, right: 3003, height: 908};
const tops = [296, 1421, 2545, 3670, 4795];
const font = {family: "DejaVu Sans", tick: 38.5, label: 46, legend: 38.5};
const blueAxis = "#0072BD", darkAxis = "#262626";

// write text with [superscript] parts
function rich(text, parts, size) {
    let up = false;
    parts.forEach(p => {
        const sup = Array.isArray(p);
        const t = text.append("tspan").text(sup ? p[0] : p);
        if (sup) {
            t.attr("font-size", size * 0.7);
            if (!up) t.attr("dy", -0.42 * size);
            up = true;
        } else if (up) {
            t.attr("dy", 0.42 * size);
            up = false;
        }
    });
}

function makePanel(i, xDom, yDom) {
    const top = tops[i], bottom = top + plot.height;
    const x = d3.scaleLinear().domain(xDom).range([plot.left, plot.right]);
    const y = d3.scaleLinear().domain(yDom).range([bottom, top]);
    const g = svg.append("g");
    return {g, x, y, top, bottom};
}

function drawLine(p, data, color, width) {
    const line = d3.line().defined(d => d !== null).x(d => p.x(d[0])).y(d => p.y(d[1]));
    p.g.append("path").datum(data).attr("d", line).attr("fill", "none")
        .attr("stroke", color).attr("stroke-width", width)
        .attr("stroke-linejoin", "round").attr("stroke-linecap", "round");
}

function drawBlueWindow(p) {
    drawLine(p, blueTrace, "#0000FF", 2.5);
    p.g.append("g").selectAll("line").data(blueStreaks).enter().append("line")
        .attr("x1", d => p.x(d[0])).attr("x2", d => p.x(d[0]))
        .attr("y1", d => p.y(d[1])).attr("y2", d => p.y(d[2]))
        .attr("stroke", "#0000FF").attr("stroke-width", 7.5);
}

function drawAxes(p, xTicks, yTicks, xLabel, yLabel, yLabelX, xLabelDy) {
    const xa = p.g.append("g").attr("transform", `translate(0,${p.bottom})`)
        .call(d3.axisBottom(p.x).tickValues(xTicks).tickFormat(d3.format("d"))
            .tickSizeInner(-27).tickSizeOuter(0).tickPadding(37));
    xa.attr("font-family", font.family).attr("font-size", font.tick);
    xa.selectAll(".domain, .tick line").attr("stroke", darkAxis).attr("stroke-width", 2.5);
    xa.selectAll(".tick text").attr("fill", darkAxis);

    const ya = p.g.append("g").attr("transform", `translate(${plot.left},0)`)
        .call(d3.axisLeft(p.y).tickValues(yTicks).tickFormat(d3.format("d"))
            .tickSizeInner(-27).tickSizeOuter(0).tickPadding(29));
    ya.attr("font-family", font.family).attr("font-size", font.tick);
    ya.selectAll(".domain, .tick line").attr("stroke", blueAxis).attr("stroke-width", 2.5);
    ya.selectAll(".tick text").attr("fill", blueAxis);

    const ra = p.g.append("g").attr("transform", `translate(${plot.right},0)`)
        .call(d3.axisRight(p.y).tickValues([]).tickSizeOuter(0));
    ra.select(".domain").attr("stroke", blueAxis).attr("stroke-width", 2.5);

    const xl = p.g.append("text").attr("x", (plot.left + plot.right) / 2).attr("y", p.bottom + xLabelDy)
        .attr("text-anchor", "middle").attr("font-family", font.family).attr("font-size", font.label)
        .attr("fill", darkAxis);
    rich(xl, xLabel, font.label);

    const yl = p.g.append("text")
        .attr("transform", `translate(${yLabelX},${(p.top + p.bottom) / 2}) rotate(-90)`)
        .attr("text-anchor", "middle").attr("font-family", font.family).attr("font-size", font.label)
        .attr("fill", blueAxis);
    rich(yl, yLabel, font.label);
}

// translucent yellow over the night hours
function shade(p, yLo, yHi) {
    p.g.append("g").selectAll("rect").data(shadeHours).enter().append("rect")
        .attr("x", d => p.x(d[0])).attr("width", d => p.x(d[1]) - p.x(d[0]))
        .attr("y", p.y(yHi)).attr("height", p.y(yLo) - p.y(yHi))
        .attr("fill", "#FFFF00").attr("fill-opacity", 0.14);
}

function legend(p, items, x0, x1, rows) {
    const lg = p.g.append("g");
    items.forEach((it, k) => {
        lg.append("line").attr("x1", x0).attr("x2", x1).attr("y1", rows[k]).attr("y2", rows[k])
            .attr("stroke", it.color).attr("stroke-width", it.width);
        const t = lg.append("text").attr("x", x1 + 25).attr("y", rows[k] + 14)
            .attr("font-family", font.family).attr("font-size", font.legend).attr("fill", "#000");
        rich(t, it.text, font.legend);
    });
}

const hourLabel = ["UTC hours on 20250318"];
const wnLabel = ["Wavenumber, cm ", ["-1"]];
const radLabel = ["Mean Radiance, mW/(m ", ["2"], "  sr cm ", ["-1"], ")"];

// panel 1
const p1 = makePanel(0, [0, 24], [170, 305]);
drawLine(p1, brown85, "#A52A2A", 7);
drawLine(p1, orange95, "#FFA500", 7);
drawLine(p1, green125, "#008000", 7);
drawBlueWindow(p1);
drawAxes(p1, hourTicks, btTicks, hourLabel, ["AERI 985-900 cm ", ["-1"], " (Window) BT"], 239, 132);
shade(p1, 170, 305);
legend(p1, [
    {color: "#A52A2A", width: 7, text: ["85 ", ["o"], " WRT Nadir"]},
    {color: "#FFA500", width: 7, text: ["95 ", ["o"], " WRT Nadir"]},
    {color: "#008000", width: 7, text: ["125 ", ["o"], " WRT Nadir"]},
    {color: "#0000FF", width: 7, text: ["180 ", ["o"], " WRT Nadir"]}
], 525, 757, [874, 942, 1010, 1078]);

// panel 2
const p2 = makePanel(1, [0, 24], [170, 305]);
drawBlueWindow(p2);
drawLine(p2, lightBlue2510, "#ADD8E6", 3.5);
drawAxes(p2, hourTicks, btTicks, hourLabel, ["Zenith BTs, K"], 237, 132);
shade(p2, 170, 305);
legend(p2, [
    {color: "#0000FF", width: 7, text: ["AERI 985-900 cm ", ["-1"], " (Window)"]},
    {color: "#ADD8E6", width: 4, text: ["AERI 2510-2515 cm ", ["-1"], " (Window)"]}
], 1908, 2143, [1506, 1571]);

// panel 3
const p3 = makePanel(2, [0, 24], [278.33, 298.37]);
drawLine(p3, orange675, "#FFA500", 6);
drawLine(p3, blue700, "#0000FF", 3.5);
drawLine(p3, brown2295, "#A52A2A", 4);
drawLine(p3, lightBlue2282, "#ADD8E6", 4);
drawAxes(p3, hourTicks, surfTicks, hourLabel, ["Zenith BTs, K"], 237, 132);
shade(p3, 284, 296);
legend(p3, [
    {color: "#FFA500", width: 7, text: ["AERI 675-680 cm ", ["-1"], " (Surf Air)"]},
    {color: "#0000FF", width: 7, text: ["AERI 700-705 cm ", ["-1"]]},
    {color: "#A52A2A", width: 3.5, text: ["AERI 2295-2300 cm ", ["-1"], " (Surf Air)"]},
    {color: "#ADD8E6", width: 3.5, text: ["AERI 2282-2287 cm ", ["-1"]]}
], 1908, 2143, [2672, 2739, 2807, 2875]);

// panel 4
const p4 = makePanel(3, [520, 1800], [2.24, 143.2]);
drawLine(p4, meanRadLW, "#000000", 4);
drawLine(p4, cloudyRadLW, "#FF0000", 4);
drawAxes(p4, lwTicks, lwRadTicks, wnLabel, radLabel, 237, 138);
legend(p4, [
    {color: "#000000", width: 4, text: ["Mean Radiance 0 to 24h UTC 20250318"]},
    {color: "#FF0000", width: 4, text: ["... cloudy"]}
], 1830, 2064, [3737, 3795]);

// panel 5
const p5 = makePanel(4, [1800, 3020], [-0.38, 9.6]);
drawLine(p5, meanRadSW, "#000000", 4);
drawLine(p5, cloudyRadSW, "#FF0000", 4);
drawAxes(p5, swTicks, swRadTicks, wnLabel, radLabel, 284, 138);
legend(p5, [
    {color: "#000000", width: 4, text: ["Mean Radiance 0 to 24h UTC 20250318"]},
    {color: "#FF0000", width: 4, text: ["... cloudy"]}
], 1830, 2064, [4862, 4919]);
</script>
</body>
</html>
